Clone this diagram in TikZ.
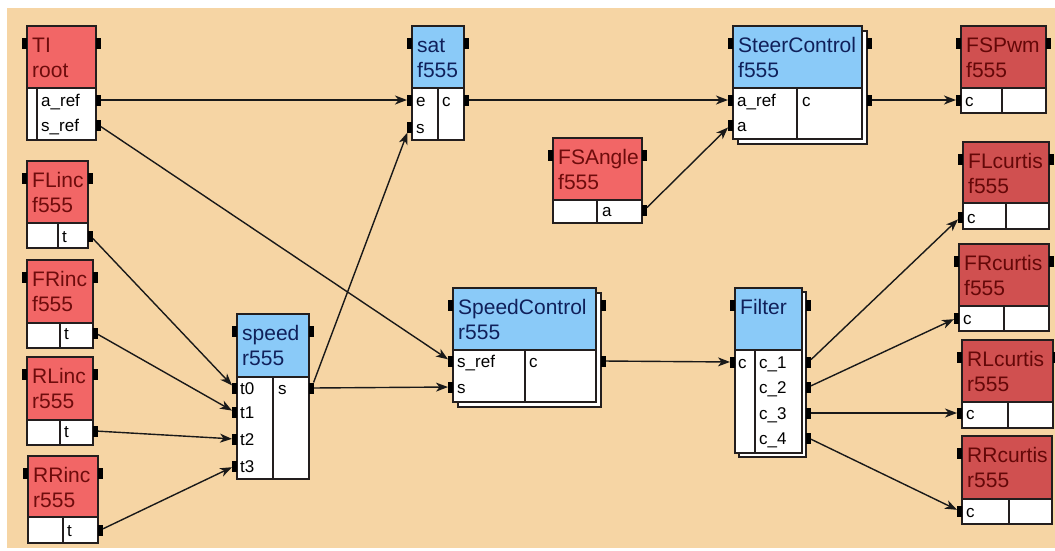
\documentclass[tikz,border=0pt]{standalone}
\usepackage{fontspec}
\setmainfont{Liberation Sans}
\usetikzlibrary{arrows.meta}
\definecolor{bg}{RGB}{246,213,164}
\definecolor{Rfill}{RGB}{242,102,102}
\definecolor{Rtext}{RGB}{110,12,12}
\definecolor{Dfill}{RGB}{208,80,80}
\definecolor{Dtext}{RGB}{100,8,8}
\definecolor{Bfill}{RGB}{138,202,248}
\definecolor{Btext}{RGB}{16,32,90}
\definecolor{edge}{RGB}{35,30,30}
\tikzset{
  boxline/.style={draw=edge,line width=1.3pt},
  hbox/.style={boxline,rectangle,inner sep=0pt,outer sep=0pt},
  lbox/.style={boxline,fill=white,rectangle,inner sep=0pt,outer sep=0pt},
  htext/.style={anchor=base west,inner sep=0pt,font=\fontsize{21}{25}\selectfont},
  plabel/.style={anchor=base west,inner sep=0pt,text=black,font=\fontsize{17}{20}\selectfont},
  port/.style={rectangle,fill=black,draw=none,minimum width=5pt,minimum height=11pt,inner sep=0pt,outer sep=0pt},
  conn/.style={draw=black!90,line width=1.4pt,-{Stealth[length=12pt,width=9pt,inset=3.5pt]}},
}
% #1 colour prefix, #2 name, #3 x, #4 y, #5 width, #6 header height, #7 lower height, #8 line1, #9 line2
\newcommand\blk[9][R]{%
  \node[hbox,fill=#1fill,anchor=north west,minimum width=#5pt,minimum height=#6pt] (#2) at (#3,#4) {};
  \node[lbox,anchor=north west,minimum width=#5pt,minimum height=#7pt] (#2-low) at (#3,{#4+#6}) {};
  \node[htext,text=#1text] (#2-l1) at ({#3+5},{#4+26}) {#8};
  \node[htext,text=#1text] (#2-l2) at ({#3+5},{#4+51}) {#9};
}
\newcommand\shbox[5]{%
  \node[lbox,anchor=north west,minimum width=#4pt,minimum height=#5pt] (#1) at (#2,#3) {};
}
\newcommand\dv[3]{\draw[boxline] (#1,#2) -- (#1,#3);}
\begin{document}
\begin{tikzpicture}[x=1pt,y=-1pt]
\useasboundingbox (0,0) rectangle (1055,550);
\fill[white] (0,0) rectangle (1055,550);
\fill[bg] (7,8) rectangle (1055,548);

% ---------- blocks ----------
\blk[R]{TI}{27}{26}{69}{62}{52}{TI}{root}
\dv{37}{88}{140}
\blk[B]{sat}{412}{26}{52}{62}{52}{sat}{f555}
\dv{438}{88}{140}
\shbox{Steer-sh}{738}{31}{129}{113}
\blk[B]{Steer}{733}{26}{129}{62}{51}{SteerControl}{f555}
\dv{797}{88}{139}
\blk[R]{FSA}{553}{138}{89}{62}{23}{FSAngle}{f555}
\dv{597}{200}{223}
\blk[D]{FSPwm}{961}{26}{85}{62}{25}{FSPwm}{f555}
\dv{1002}{88}{113}
\blk[D]{FLc}{963}{142}{86}{61}{26}{FLcurtis}{f555}
\dv{1006}{203}{229}
\blk[D]{FRc}{959}{244}{90}{62}{25}{FRcurtis}{f555}
\dv{1004}{306}{331}
\blk[D]{RLc}{962}{340}{91}{62}{26}{RLcurtis}{r555}
\dv{1008}{402}{428}
\blk[D]{RRc}{962}{436}{90}{63}{25}{RRcurtis}{r555}
\dv{1009}{499}{524}
\blk[R]{FLi}{27}{161}{61}{62}{25}{FLinc}{f555}
\dv{58}{223}{248}
\blk[R]{FRi}{27}{260}{66}{63}{25}{FRinc}{f555}
\dv{60}{323}{348}
\blk[R]{RLi}{27}{357}{66}{63}{25}{RLinc}{r555}
\dv{60}{420}{445}
\blk[R]{RRi}{28}{456}{70}{61}{26}{RRinc}{r555}
\dv{63}{517}{543}
\blk[B]{speed}{237}{314}{72}{63}{102}{speed}{r555}
\dv{273}{377}{479}
\shbox{SC-sh}{458}{293}{143}{114}
\blk[B]{SC}{453}{288}{143}{62}{52}{SpeedControl}{r555}
\dv{525}{350}{402}
\shbox{Fi-sh}{739}{292}{67}{165}
\blk[B]{Fi}{735}{288}{67}{62}{103}{Filter}{}
\dv{755}{350}{453}

% ---------- header ports ----------
\foreach \n/\xl/\xr/\y in {TI/24.5/98.5/43, sat/409.5/466.5/43, Steer/730.5/869.5/43,
  FSA/550.5/644.5/155, FSPwm/958.5/1048.5/43, FLc/960.5/1051.5/159, FRc/956.5/1051.5/261,
  RLc/959.5/1055.5/357, FLi/24.5/90.5/178, FRi/24.5/95.5/277, RLi/24.5/95.5/374,
  RRi/25.5/100.5/473, speed/234.5/311.5/331, SC/450.5/603.5/305, Fi/732.5/808.5/305}{
  \node[port] (\n-hl) at (\xl,\y) {};
  \node[port] (\n-hr) at (\xr,\y) {};
}
\node[port] (RRc-hl) at (959.5,453) {};

% ---------- row ports ----------
\node[port] (TI-aref) at (98.5,100) {};
\node[port] (TI-sref) at (98.5,125) {};
\node[port] (sat-e) at (409.5,100) {};
\node[port] (sat-s) at (409.5,127) {};
\node[port] (sat-c) at (466.5,100) {};
\node[port] (Steer-aref) at (730.5,100) {};
\node[port] (Steer-a) at (730.5,125) {};
\node[port] (Steer-c) at (869.5,100) {};
\node[port] (FSA-a) at (644.5,210) {};
\node[port] (FSPwm-c) at (958.5,100) {};
\node[port] (FLc-c) at (960.5,217) {};
\node[port] (FRc-c) at (956.5,318) {};
\node[port] (RLc-c) at (959.5,413) {};
\node[port] (RRc-c) at (959.5,511) {};
\node[port] (FLi-t) at (90.5,236) {};
\node[port] (FRi-t) at (95.5,333) {};
\node[port] (RLi-t) at (95.5,431) {};
\node[port] (RRi-t) at (100.5,530) {};
\node[port] (speed-t0) at (234.5,388) {};
\node[port] (speed-t1) at (234.5,412) {};
\node[port] (speed-t2) at (234.5,439) {};
\node[port] (speed-t3) at (234.5,466) {};
\node[port] (speed-s) at (311.5,388) {};
\node[port] (SC-sref) at (450.5,361) {};
\node[port] (SC-s) at (450.5,387) {};
\node[port] (SC-c) at (603.5,361) {};
\node[port] (Fi-c) at (732.5,362) {};
\node[port] (Fi-c1) at (808.5,362) {};
\node[port] (Fi-c2) at (808.5,387) {};
\node[port] (Fi-c3) at (808.5,413) {};
\node[port] (Fi-c4) at (808.5,438) {};

% ---------- row labels ----------
\node[plabel] (TI-la) at (41,106) {a\_ref};
\node[plabel] (TI-ls) at (41,131) {s\_ref};
\node[plabel] (sat-le) at (416,106) {e};
\node[plabel] (sat-ls) at (416,133) {s};
\node[plabel] (sat-lc) at (442,106) {c};
\node[plabel] (Steer-la) at (737,106) {a\_ref};
\node[plabel] (Steer-lb) at (737,131) {a};
\node[plabel] (Steer-lc) at (802,106) {c};
\node[plabel] (FSA-la) at (602,216) {a};
\node[plabel] (FSPwm-lc) at (965,106) {c};
\node[plabel] (FLc-lc) at (967,223) {c};
\node[plabel] (FRc-lc) at (963,324) {c};
\node[plabel] (RLc-lc) at (966,419) {c};
\node[plabel] (RRc-lc) at (966,517) {c};
\node[plabel] (FLi-lt) at (62,242) {t};
\node[plabel] (FRi-lt) at (64,339) {t};
\node[plabel] (RLi-lt) at (64,437) {t};
\node[plabel] (RRi-lt) at (67,536) {t};
\node[plabel] (speed-l0) at (240,394) {t0};
\node[plabel] (speed-l1) at (240,418) {t1};
\node[plabel] (speed-l2) at (240,445) {t2};
\node[plabel] (speed-l3) at (240,472) {t3};
\node[plabel] (speed-ls) at (278,394) {s};
\node[plabel] (SC-lr) at (457,367) {s\_ref};
\node[plabel] (SC-ls) at (457,393) {s};
\node[plabel] (SC-lc) at (529,367) {c};
\node[plabel] (Fi-lc) at (738,368) {c};
\node[plabel] (Fi-l1) at (759,368) {c\_1};
\node[plabel] (Fi-l2) at (759,393) {c\_2};
\node[plabel] (Fi-l3) at (759,419) {c\_3};
\node[plabel] (Fi-l4) at (759,444) {c\_4};

% ---------- connectors ----------
\draw[conn] (TI-aref) -- (sat-e);
\draw[conn] (sat-c) -- (Steer-aref);
\draw[conn] (Steer-c) -- (FSPwm-c);
\draw[conn] (FSA-a) -- (Steer-a);
\draw[conn] (TI-sref) -- (SC-sref);
\draw[conn] (FLi-t) -- (speed-t0);
\draw[conn] (FRi-t) -- (speed-t1);
\draw[conn] (RLi-t) -- (speed-t2);
\draw[conn] (RRi-t) -- (speed-t3);
\draw[conn] (speed-s) -- (sat-s);
\draw[conn] (speed-s) -- (SC-s);
\draw[conn] (SC-c) -- (Fi-c);
\draw[conn] (Fi-c1) -- (FLc-c);
\draw[conn] (Fi-c2) -- (FRc-c);
\draw[conn] (Fi-c3) -- (RLc-c);
\draw[conn] (Fi-c4) -- (RRc-c);
\end{tikzpicture}
\end{document}
